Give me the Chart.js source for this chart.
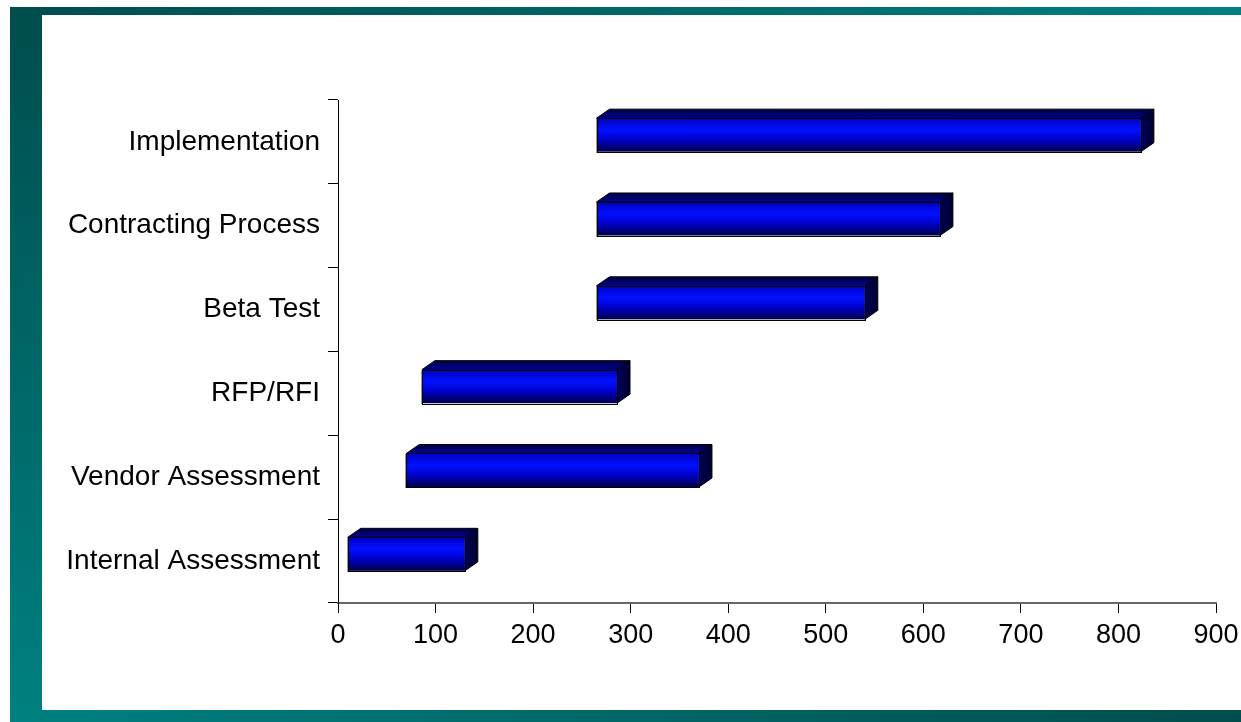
<!DOCTYPE html>
<html>
<head>
<meta charset="utf-8">
<script src="https://cdn.jsdelivr.net/npm/chart.js@4"></script>
<style>
  html, body { margin: 0; padding: 0; background: #fff; }
  body { width: 1241px; height: 722px; position: relative; overflow: hidden; }
  .band { position: absolute; }
  #band-top { left: 10px; top: 7px; width: 1231px; height: 8px; background: linear-gradient(to right, #004d4d, #008080); }
  #band-left { left: 10px; top: 7px; width: 32px; height: 715px; background: linear-gradient(to bottom, #004d4d, #008080); }
  #band-bottom { left: 10px; top: 710px; width: 1231px; height: 12px; background: linear-gradient(to right, #008080, #004d4d); }
  #chart { position: absolute; left: 0; top: 0; }
</style>
</head>
<body>
<div class="band" id="band-top"></div>
<div class="band" id="band-left"></div>
<div class="band" id="band-bottom"></div>
<canvas id="chart" width="1241" height="722"></canvas>
<script>
// tasks top to bottom
const tasks = ['Implementation', 'Contracting Process', 'Beta Test', 'RFP/RFI', 'Vendor Assessment', 'Internal Assessment'];
const startDay = [265, 265, 265, 86, 70, 10];
const endDay = [823, 617, 540, 286, 370, 130];
const xTicks = [0, 100, 200, 300, 400, 500, 600, 700, 800, 900];

// draws each bar as a 3D box from the bar element geometry
const bar3d = {
  id: 'bar3d',
  afterDatasetsDraw(chart) {
    const ctx = chart.ctx;
    const lift = 7, dx = 13, dy = 9;
    chart.getDatasetMeta(0).data.forEach(bar => {
      const left = Math.min(bar.x, bar.base);
      const right = Math.max(bar.x, bar.base);
      const top = bar.y - bar.height / 2 - lift;
      const bottom = top + bar.height;
      ctx.save();
      ctx.lineWidth = 1;
      ctx.strokeStyle = '#000';
      ctx.lineJoin = 'miter';

      // top face
      let g = ctx.createLinearGradient(0, top - dy, 0, top);
      g.addColorStop(0, '#00003c');
      g.addColorStop(1, '#00009a');
      ctx.beginPath();
      ctx.moveTo(left, top);
      ctx.lineTo(left + dx, top - dy);
      ctx.lineTo(right + dx, top - dy);
      ctx.lineTo(right, top);
      ctx.closePath();
      ctx.fillStyle = g;
      ctx.fill();
      ctx.stroke();

      // side face
      g = ctx.createLinearGradient(right, 0, right + dx, 0);
      g.addColorStop(0, '#000058');
      g.addColorStop(1, '#000030');
      ctx.beginPath();
      ctx.moveTo(right, top);
      ctx.lineTo(right + dx, top - dy);
      ctx.lineTo(right + dx, bottom - dy);
      ctx.lineTo(right, bottom);
      ctx.closePath();
      ctx.fillStyle = g;
      ctx.fill();
      ctx.stroke();

      // front face
      g = ctx.createLinearGradient(0, top, 0, bottom);
      g.addColorStop(0, '#0000c0');
      g.addColorStop(0.35, '#0010ff');
      g.addColorStop(0.65, '#0000c8');
      g.addColorStop(1, '#000048');
      ctx.fillStyle = g;
      ctx.fillRect(left, top, right - left, bottom - top);
      ctx.strokeStyle = '#9a9a9a';
      ctx.beginPath();
      ctx.moveTo(Math.round(left) - 0.5, Math.round(top) + 1);
      ctx.lineTo(Math.round(left) - 0.5, Math.round(bottom) + 1);
      ctx.stroke();
      ctx.strokeStyle = '#000';
      ctx.strokeRect(Math.round(left) + 0.5, Math.round(top) + 0.5, Math.round(right - left), Math.round(bottom - top));
      ctx.restore();
    });
  }
};

Chart.defaults.color = '#000';
Chart.defaults.font.family = '"Liberation Sans", Arial, sans-serif';

new Chart(document.getElementById('chart'), {
  type: 'bar',
  data: {
    labels: tasks,
    datasets: [{
      data: tasks.map((t, i) => [startDay[i], endDay[i]]),
      backgroundColor: 'rgba(0,0,0,0)',
      borderWidth: 0,
      barPercentage: 0.4,
      categoryPercentage: 1
    }]
  },
  options: {
    indexAxis: 'y',
    responsive: false,
    animation: false,
    layout: { padding: { top: 100, right: 25, left: 0, bottom: 0 } },
    plugins: { legend: { display: false }, tooltip: { enabled: false } },
    scales: {
      x: {
        min: 0,
        max: 900,
        afterBuildTicks: scale => { scale.ticks = xTicks.map(v => ({ value: v })); },
        afterFit: scale => {
          scale.height = 119;
          scale.paddingLeft = 0;
          scale.paddingRight = 0;
        },
        grid: { drawOnChartArea: false, tickLength: 10, color: '#000', lineWidth: 1 },
        border: { color: '#666', width: 2 },
        ticks: { font: { size: 27 }, padding: 6, maxRotation: 0 }
      },
      y: {
        afterFit: scale => { scale.width = 338; },
        grid: { drawOnChartArea: false, tickLength: 10, color: '#000', lineWidth: 1, offset: true },
        border: { color: '#000', width: 1 },
        ticks: { font: { size: 28 }, padding: 8 }
      }
    }
  },
  plugins: [bar3d]
});
</script>
</body>
</html>
